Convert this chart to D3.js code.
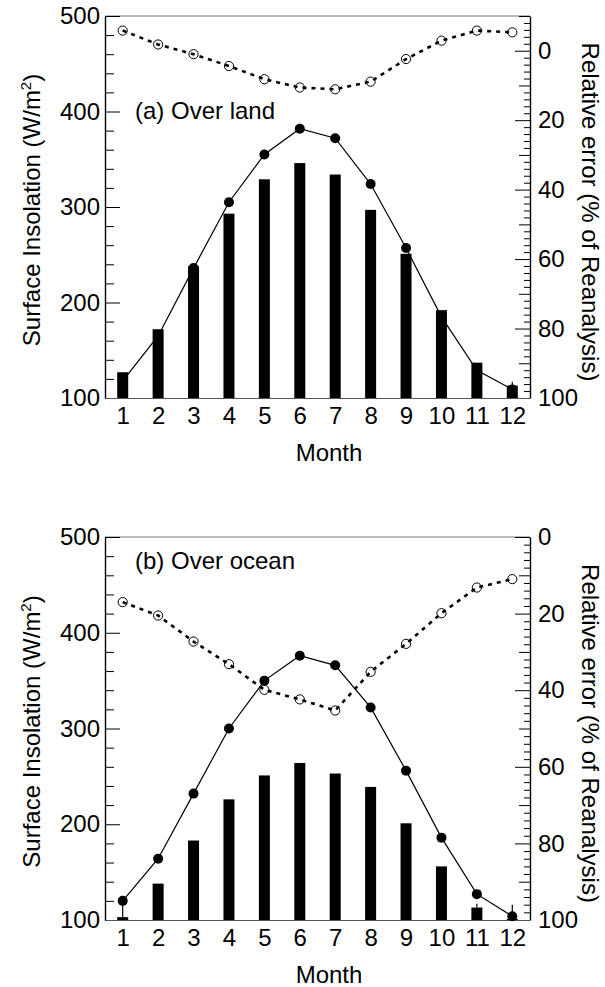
<!DOCTYPE html>
<html>
<head>
<meta charset="utf-8">
<script src="https://cdn.jsdelivr.net/npm/d3@7"></script>
<style>
  body { margin: 0; background: #fff; }
  text { font-family: "Liberation Sans", Arial, Helvetica, sans-serif; fill: #000; }
</style>
</head>
<body>
<div id="chart"></div>
<script>
// data
var months = [1, 2, 3, 4, 5, 6, 7, 8, 9, 10, 11, 12];

// (a) over land
var landBars = [127, 172, 238, 293, 329, 346, 334, 297, 251, 192, 137, 113];
var landBarSd = [0, 0, 0, 0, 0, 0, 0, 0, 0, 0, 0, 4];
var landFlux = [118, 165, 236, 305, 355, 382, 372, 324, 257, 185, 129, 109];
var landErr = [-5.8, -1.8, 1.0, 4.4, 8.2, 10.6, 11.1, 8.9, 2.4, -2.9, -5.8, -5.3];

// (b) over ocean
var oceanBars = [103, 138, 183, 226, 251, 264, 253, 239, 201, 156, 113, 101];
var oceanBarSd = [16, 0, 0, 0, 0, 0, 0, 0, 0, 0, 4, 15];
var oceanFlux = [120, 164, 232, 300, 350, 376, 366, 322, 256, 186, 127, 104];
var oceanErr = [17, 20.5, 27.3, 33.2, 39.9, 42.4, 45.3, 35.2, 27.9, 19.9, 13.2, 11];

var leftTicks = [100, 200, 300, 400, 500];
var rightTicks = [0, 20, 40, 60, 80, 100];

var W = 605, H = 987;
var left = 105, right = 530;
var fs = '24px';

var svg = d3.select('#chart')
  .append('svg')
  .attr('width', W)
  .attr('height', H);

function drawPanel(top, bottom, errDomain, label, labelY, bars, barSd, flux, err) {
  var x = d3.scaleLinear().domain([0.5, 12.5]).range([left, right]);
  var y = d3.scaleLinear().domain([100, 500]).range([bottom, top]);
  var yErr = d3.scaleLinear().domain(errDomain).range([top, bottom]);

  var g = svg.append('g');

  // frame top (greyish in the scan)
  g.append('line')
    .attr('x1', left).attr('x2', right)
    .attr('y1', top).attr('y2', top)
    .attr('stroke', '#777').attr('stroke-width', 1);

  // left axis: major + minor ticks pointing in
  var minorL = d3.range(120, 500, 20).filter(function(d) { return d % 100 != 0; });
  g.append('g')
    .attr('transform', 'translate(' + left + ',0)')
    .call(d3.axisLeft(y).tickValues(minorL).tickSize(-9).tickFormat(''))
    .call(function(s) { s.select('.domain').remove(); });
  var axL = g.append('g')
    .attr('transform', 'translate(' + left + ',0)')
    .call(d3.axisLeft(y).tickValues(leftTicks).tickSize(-15).tickSizeOuter(0).tickPadding(5));
  axL.selectAll('text').style('font-size', fs);
  axL.select('.domain').attr('stroke-width', 1.4);

  // right axis: minor every 2, medium every 10, major every 20
  var minorR = d3.range(errDomain[0], 100.1, 2).filter(function(d) { return d % 10 != 0; });
  var midR = d3.range(errDomain[0], 100.1, 10).filter(function(d) { return d % 20 != 0; });
  g.append('g')
    .attr('transform', 'translate(' + right + ',0)')
    .call(d3.axisRight(yErr).tickValues(minorR).tickSize(-6).tickFormat(''))
    .call(function(s) { s.select('.domain').remove(); });
  g.append('g')
    .attr('transform', 'translate(' + right + ',0)')
    .call(d3.axisRight(yErr).tickValues(midR).tickSize(-11).tickFormat(''))
    .call(function(s) { s.select('.domain').remove(); });
  var axR = g.append('g')
    .attr('transform', 'translate(' + right + ',0)')
    .call(d3.axisRight(yErr).tickValues(rightTicks).tickSize(-15).tickSizeOuter(0).tickPadding(8));
  axR.selectAll('text').style('font-size', fs);
  axR.select('.domain').attr('stroke-width', 1.4);

  // bottom axis: labels only
  var axB = g.append('g')
    .attr('transform', 'translate(0,' + bottom + ')')
    .call(d3.axisBottom(x).tickValues(months).tickSize(0).tickSizeOuter(0).tickPadding(9));
  axB.selectAll('text').style('font-size', fs);
  axB.select('.domain').attr('stroke', '#555');

  // bars
  g.selectAll('rect.bar')
    .data(months)
    .enter()
    .append('rect')
    .attr('class', 'bar')
    .attr('x', function(d) { return x(d) - 5.5; })
    .attr('width', 11)
    .attr('y', function(d, i) { return y(bars[i]); })
    .attr('height', function(d, i) { return bottom - y(bars[i]); })
    .attr('fill', '#000');

  g.selectAll('line.sd')
    .data(months.filter(function(d, i) { return barSd[i] > 0; }))
    .enter()
    .append('line')
    .attr('class', 'sd')
    .attr('x1', function(d) { return x(d); })
    .attr('x2', function(d) { return x(d); })
    .attr('y1', function(d) { return y(bars[d - 1]); })
    .attr('y2', function(d) { return y(bars[d - 1] + barSd[d - 1]); })
    .attr('stroke', '#000')
    .attr('stroke-width', 1.2);

  // relative error: open circles + dashed line
  g.selectAll('circle.err')
    .data(months)
    .enter()
    .append('circle')
    .attr('class', 'err')
    .attr('cx', function(d) { return x(d); })
    .attr('cy', function(d, i) { return yErr(err[i]); })
    .attr('r', 4.6)
    .attr('fill', '#fff')
    .attr('stroke', '#000')
    .attr('stroke-width', 1);

  var errLine = d3.line()
    .x(function(d) { return x(d); })
    .y(function(d, i) { return yErr(err[i]); });
  g.append('path')
    .datum(months)
    .attr('d', errLine)
    .attr('fill', 'none')
    .attr('stroke', '#000')
    .attr('stroke-width', 2.6)
    .attr('stroke-dasharray', '4,5');

  // flux: solid line + filled circles
  var fluxLine = d3.line()
    .x(function(d) { return x(d); })
    .y(function(d, i) { return y(flux[i]); });
  g.append('path')
    .datum(months)
    .attr('d', fluxLine)
    .attr('fill', 'none')
    .attr('stroke', '#000')
    .attr('stroke-width', 1.2);

  g.selectAll('circle.flux')
    .data(months)
    .enter()
    .append('circle')
    .attr('class', 'flux')
    .attr('cx', function(d) { return x(d); })
    .attr('cy', function(d, i) { return y(flux[i]); })
    .attr('r', 5)
    .attr('fill', '#000');

  // labels
  g.append('text')
    .attr('x', 135)
    .attr('y', labelY)
    .style('font-size', fs)
    .text(label);

  g.append('text')
    .attr('x', 329)
    .attr('y', bottom + 63)
    .attr('text-anchor', 'middle')
    .style('font-size', fs)
    .text('Month');

  var mid = (top + bottom) / 2 + 3;
  var yt = g.append('text')
    .attr('transform', 'translate(40,' + mid + ') rotate(-90)')
    .attr('text-anchor', 'middle')
    .style('font-size', fs);
  yt.append('tspan').text('Surface Insolation (W/m');
  yt.append('tspan').attr('dy', -9).style('font-size', '15px').text('2');
  yt.append('tspan').attr('dy', 9).text(')');

  g.append('text')
    .attr('transform', 'translate(582,' + (mid + 2) + ') rotate(90)')
    .attr('text-anchor', 'middle')
    .style('font-size', fs)
    .text('Relative error (% of Reanalysis)');
}

drawPanel(16, 398, [-10, 100], '(a) Over land', 119, landBars, landBarSd, landFlux, landErr);
drawPanel(537, 920, [0, 100], '(b) Over ocean', 569, oceanBars, oceanBarSd, oceanFlux, oceanErr);
</script>
</body>
</html>
